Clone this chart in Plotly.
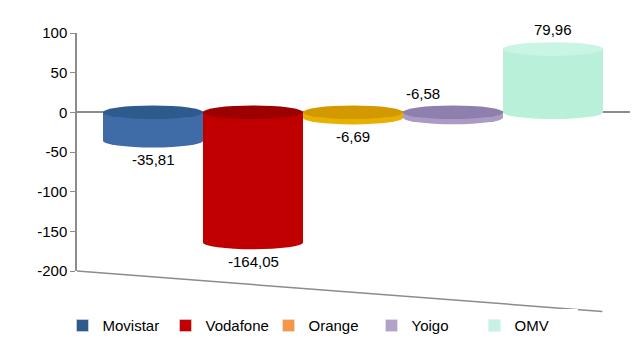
import plotly.graph_objects as go

series = ["Movistar", "Vodafone", "Orange", "Yoigo", "OMV"]
values = [-35.81, -164.05, -6.69, -6.58, 79.96]
bar_colors = ["#3F6CA6", "#C00000", "#E8B000", "#A99BC4", "#B8F0DA"]
cap_colors = ["#2F5A8E", "#9C0000", "#D29A00", "#8E7FAE", "#C9F5E4"]
legend_colors = ["#2F5A8E", "#C00000", "#F79646", "#B3A2C7", "#C6F2E2"]
label_side = ["below", "below", "below", "above", "above"]
y_ticks = [100, 50, 0, -50, -100, -150, -200]
y_tick_text = ["100", "50", "0", "-50", "-100", "-150", "-200"]

fig = go.Figure()
positions = list(range(len(series)))
for i, (name, v) in enumerate(zip(series, values)):
    fig.add_trace(go.Bar(
        x=[positions[i]], y=[v], name=name, width=1.0,
        marker=dict(color=bar_colors[i], line=dict(width=0)),
        showlegend=False,
    ))
for i, name in enumerate(series):
    fig.add_trace(go.Bar(
        x=[None], y=[None], name=name,
        marker=dict(color=legend_colors[i]), showlegend=True,
    ))

cap_h = 8.5
shapes = []
annotations = []
for i, v in enumerate(values):
    x0, x1 = positions[i] - 0.5, positions[i] + 0.5
    top, bottom = max(v, 0), min(v, 0)
    shapes.append(dict(type="circle", xref="x", yref="y", x0=x0, x1=x1,
                       y0=bottom - cap_h, y1=bottom + cap_h,
                       fillcolor=bar_colors[i], line=dict(width=0), layer="above"))
    shapes.append(dict(type="circle", xref="x", yref="y", x0=x0, x1=x1,
                       y0=top - cap_h, y1=top + cap_h,
                       fillcolor=cap_colors[i], line=dict(width=0), layer="above"))
    label = f"{v:.2f}".replace(".", ",")
    if label_side[i] == "below":
        annotations.append(dict(x=positions[i], y=bottom - cap_h, xref="x", yref="y",
                                text=label, showarrow=False,
                                yanchor="top", yshift=-2,
                                font=dict(size=15, color="#000")))
    else:
        annotations.append(dict(x=positions[i] - (0.3 if v < 0 else 0), y=top + cap_h,
                                xref="x", yref="y",
                                text=label, showarrow=False,
                                yanchor="bottom", yshift=2,
                                font=dict(size=15, color="#000")))

shapes.append(dict(type="line", xref="paper", yref="paper", x0=0, y0=0, x1=0.95, y1=-0.17,
                   line=dict(color="#8C8C8C", width=1.5), layer="below"))

fig.update_layout(
    width=640, height=360,
    margin=dict(l=77, r=10, t=33, b=89, autoexpand=False),
    paper_bgcolor="white", plot_bgcolor="white",
    font=dict(family="Liberation Sans, Arial, sans-serif", size=15, color="#000"),
    separators=",.",
    barmode="overlay",
    xaxis=dict(range=[-0.76, 4.77], showticklabels=False, showgrid=False,
               zeroline=False, showline=False, ticks=""),
    yaxis=dict(range=[-200, 100], tickvals=y_ticks, ticktext=y_tick_text, showgrid=False,
               zeroline=True, zerolinecolor="#8C8C8C", zerolinewidth=1.5,
               showline=True, linecolor="#8C8C8C", linewidth=1.5,
               ticks="outside", ticklen=5, tickcolor="#8C8C8C",
               tickfont=dict(size=15)),
    legend=dict(orientation="h", x=0.5, xanchor="center", y=0.095, yanchor="middle",
                xref="container", yref="container", font=dict(size=15),
                entrywidth=58, entrywidthmode="pixels", itemwidth=30,
                tracegroupgap=0),
    shapes=shapes, annotations=annotations,
)

fig.write_html("out.html")
